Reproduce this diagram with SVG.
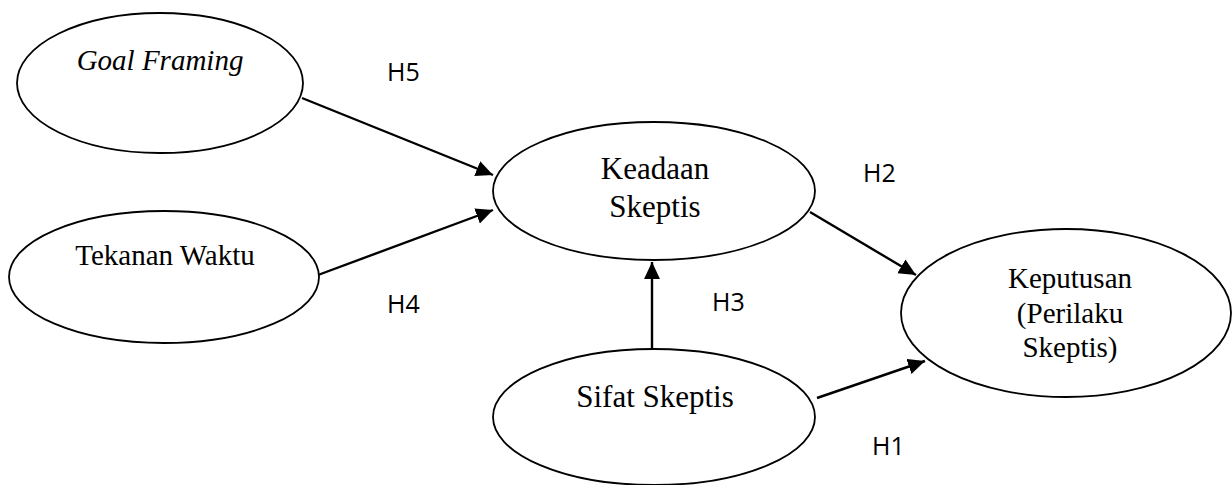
<svg xmlns="http://www.w3.org/2000/svg" width="1232" height="485" viewBox="0 0 1232 485">
<style>
.node ellipse{fill:#fff;stroke:#000;stroke-width:1.8}
.t{font-family:"Liberation Serif","Times New Roman",serif;fill:#000;text-anchor:middle}
.lbl{font-family:"Open Sans","Liberation Sans",sans-serif;font-size:25px;fill:#000}
.edge{stroke:#000;stroke-width:2.4;fill:none;marker-end:url(#arr)}
</style>
<defs>
<marker id="arr" markerUnits="userSpaceOnUse" markerWidth="18" markerHeight="17" refX="17" refY="8" orient="auto" viewBox="0 0 18 17">
<path d="M0,0 L17,8 L0,16 z" fill="#000"/>
</marker>
</defs>
<rect width="1232" height="485" fill="#fff"/>
<g id="connectors">
<line class="edge" x1="302" y1="98" x2="493" y2="175"/>
<line class="edge" x1="318" y1="275" x2="493" y2="210"/>
<line class="edge" x1="652" y1="349" x2="652" y2="262"/>
<line class="edge" x1="810" y1="212" x2="916" y2="275"/>
<line class="edge" x1="817" y1="398" x2="925" y2="361"/>
</g>
<g id="goal-framing" class="node">
<ellipse cx="160" cy="83" rx="143" ry="70"/>
<text class="t" x="160" y="70" font-size="29" font-style="italic">Goal Framing</text>
</g>
<g id="tekanan-waktu" class="node">
<ellipse cx="164" cy="277" rx="155" ry="66"/>
<text class="t" x="165" y="265" font-size="29">Tekanan Waktu</text>
</g>
<g id="keadaan-skeptis" class="node">
<ellipse cx="654" cy="191" rx="161" ry="69"/>
<text class="t" x="655" y="179" font-size="31">Keadaan</text>
<text class="t" x="655" y="217" font-size="31">Skeptis</text>
</g>
<g id="sifat-skeptis" class="node">
<ellipse cx="654" cy="417" rx="161" ry="68"/>
<text class="t" x="655" y="407" font-size="31">Sifat Skeptis</text>
</g>
<g id="keputusan" class="node">
<ellipse cx="1066" cy="313" rx="165" ry="84"/>
<text class="t" x="1070" y="288" font-size="29">Keputusan</text>
<text class="t" x="1070" y="323" font-size="29">(Perilaku</text>
<text class="t" x="1070" y="357" font-size="29">Skeptis)</text>
</g>
<g id="labels">
<text class="lbl" x="387" y="81">H5</text>
<text class="lbl" x="863" y="182">H2</text>
<text class="lbl" x="387" y="313">H4</text>
<text class="lbl" x="712" y="311">H3</text>
<text class="lbl" x="872" y="455">H1</text>
</g>
</svg>
